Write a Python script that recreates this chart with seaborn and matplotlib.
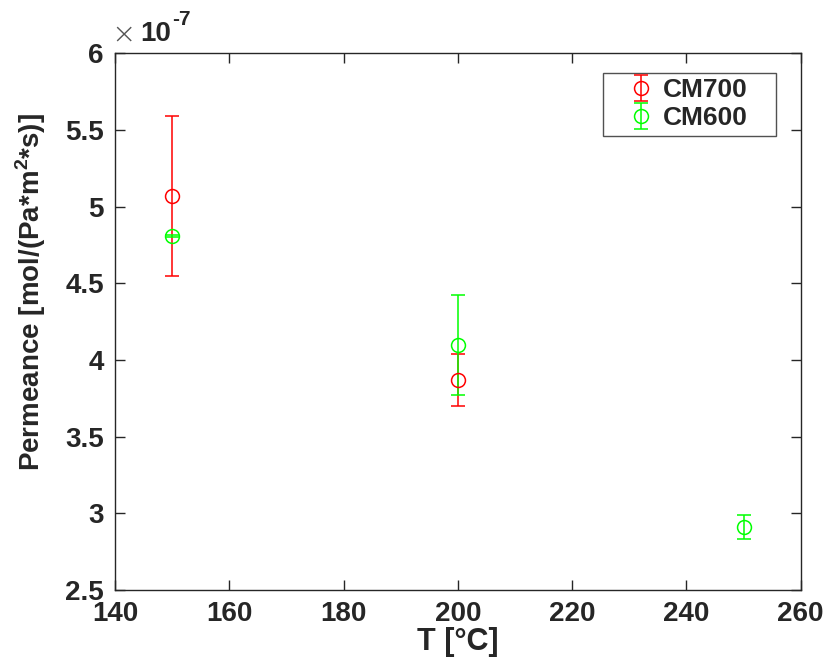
import numpy as np
import seaborn as sns
import matplotlib
matplotlib.use("Agg")
import matplotlib.pyplot as plt

# values in units of 1e-7 mol/(Pa*m^2*s)
t_cm700 = [150, 200]
perm_cm700 = [5.07, 3.87]
err_cm700 = [0.52, 0.167]

t_cm600 = [150, 200, 250]
perm_cm600 = [4.81, 4.10, 2.91]
err_cm600 = [0.005, 0.325, 0.08]

sns.set_theme(style="ticks")
plt.rcParams["font.family"] = ["Liberation Sans", "DejaVu Sans"]
plt.rcParams["font.weight"] = "bold"
plt.rcParams["mathtext.fontset"] = "custom"
plt.rcParams["mathtext.rm"] = "Liberation Sans:bold"
plt.rcParams["mathtext.bf"] = "Liberation Sans:bold"
dark = "#262626"

fig = plt.figure(figsize=(8.28, 6.66), dpi=100)
ax = fig.add_axes([0.139, 0.114, 0.828, 0.806])

ax.errorbar(t_cm700, perm_cm700, yerr=err_cm700, fmt="o", color="#ff0000",
            mfc="none", ms=10, mew=1.1, elinewidth=1.1, capsize=5, capthick=1.1,
            label="CM700")
ax.errorbar(t_cm600, perm_cm600, yerr=err_cm600, fmt="o", color="#00ff00",
            mfc="none", ms=10, mew=1.1, elinewidth=1.1, capsize=5, capthick=1.1,
            label="CM600")

ax.set_xlim(140, 260)
ax.set_ylim(2.5, 6)
ax.set_xticks(np.arange(140, 261, 20))
ax.set_yticks(np.arange(2.5, 6.01, 0.5))
ax.set_yticklabels(["2.5", "3", "3.5", "4", "4.5", "5", "5.5", "6"])

for s in ax.spines.values():
    s.set_color(dark)
    s.set_linewidth(1.0)
ax.tick_params(direction="in", length=7, width=1.0, color=dark,
               top=True, right=True, labelsize=20, labelcolor=dark, pad=8)
for lab in ax.get_xticklabels() + ax.get_yticklabels():
    lab.set_fontweight("bold")

ax.set_xlabel("T [°C]", fontsize=22, fontweight="bold", color=dark, labelpad=0)
ax.set_ylabel("Permeance [mol/(Pa*m$^{2}$*s)]", fontsize=20,
              fontweight="bold", color=dark)
ax.yaxis.set_label_coords(-0.098, 0.555)

# MATLAB-style exponent label
ax.text(0.030, 1.008, "×", transform=ax.transAxes, fontsize=21,
        fontweight="light", color="#555555", ha="right", va="bottom",
        family="DejaVu Sans")
ax.text(0.036, 1.012, "10", transform=ax.transAxes, fontsize=20,
        fontweight="bold", color=dark, ha="left", va="bottom")
ax.text(0.083, 1.045, "-7", transform=ax.transAxes, fontsize=15,
        fontweight="bold", color=dark, ha="left", va="bottom")

leg = ax.legend(loc="upper left", bbox_to_anchor=(0.711, 0.849, 0.2525, 0.114),
                mode="expand", fontsize=19, frameon=True, fancybox=False,
                edgecolor=dark, handlelength=2.5, handletextpad=-0.4,
                borderpad=0.2, labelspacing=0.15, borderaxespad=0)
leg.get_frame().set_linewidth(1.0)
for txt in leg.get_texts():
    txt.set_fontweight("bold")

fig.savefig("out.png", dpi=100)
